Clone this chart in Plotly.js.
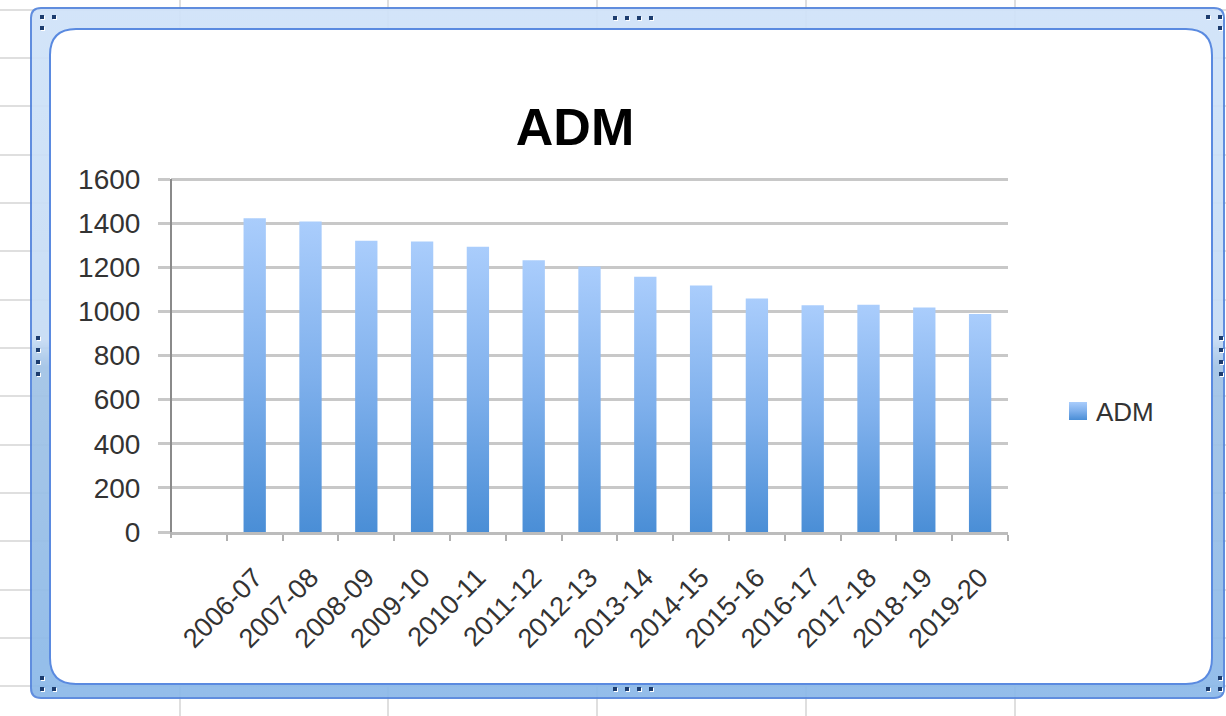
<!DOCTYPE html>
<html>
<head>
<meta charset="utf-8">
<script src="https://cdn.plot.ly/plotly-3.0.1.min.js"></script>
<style>
  html, body { margin: 0; padding: 0; background: #ffffff; }
  #chart { width: 1226px; height: 716px; }
</style>
</head>
<body>
<div id="chart"></div>
<script>
// ---- data ----
const categories = ["2006-07", "2007-08", "2008-09", "2009-10", "2010-11", "2011-12", "2012-13",
                    "2013-14", "2014-15", "2015-16", "2016-17", "2017-18", "2018-19", "2019-20"];
const admValues = [1422, 1407, 1320, 1317, 1293, 1232, 1203, 1157, 1117, 1058, 1028, 1030, 1017, 988];
const seriesName = "ADM";
const chartTitle = "ADM";
const yTicks = [0, 200, 400, 600, 800, 1000, 1200, 1400, 1600];

// ---- layout geometry (pixels) ----
const W = 1226, H = 716;
const L = 171, R = 1008, T = 175, B = 532;
const Y1600 = 179; // pixel row of the 1600 gridline
const yTop = yTicks[yTicks.length - 1];
const yMax = yTop * (B - T) / (B - Y1600);
const PX = p => (p - L) / (R - L);
const PY = p => (B - p) / (B - T);

function roundRectPath(x0, y0, x1, y1, r) {
  const f = (x, y) => PX(x).toFixed(5) + ',' + PY(y).toFixed(5);
  return 'M' + f(x0 + r, y0) + ' L' + f(x1 - r, y0) + ' Q' + f(x1, y0) + ' ' + f(x1, y0 + r) +
         ' L' + f(x1, y1 - r) + ' Q' + f(x1, y1) + ' ' + f(x1 - r, y1) +
         ' L' + f(x0 + r, y1) + ' Q' + f(x0, y1) + ' ' + f(x0, y1 - r) +
         ' L' + f(x0, y0 + r) + ' Q' + f(x0, y0) + ' ' + f(x0 + r, y0) + ' Z';
}

const shapes = [];
// spreadsheet grid lines behind the chart object
const sheetCols = [180, 388, 597, 806, 1015];
const sheetRows = [10, 58, 106, 155, 203, 251, 300, 348, 396, 445, 493, 541, 590, 638, 686];
sheetCols.forEach(x => shapes.push({type: 'line', xref: 'paper', yref: 'paper', layer: 'below',
  x0: PX(x), x1: PX(x), y0: PY(0), y1: PY(H), line: {color: '#d4d4d4', width: 1.5}}));
sheetRows.forEach(y => shapes.push({type: 'line', xref: 'paper', yref: 'paper', layer: 'below',
  x0: PX(0), x1: PX(W), y0: PY(y), y1: PY(y), line: {color: '#d4d4d4', width: 1.5}}));
// outer frame band
const bandIndex = shapes.length;
shapes.push({type: 'path', xref: 'paper', yref: 'paper', layer: 'below',
  path: roundRectPath(31, 8, 1224, 698, 10), fillcolor: '#c3daf4', opacity: 0.93,
  line: {color: '#5585dc', width: 2}});
// inner white area
shapes.push({type: 'path', xref: 'paper', yref: 'paper', layer: 'below',
  path: roundRectPath(50, 29, 1212, 684, 26), fillcolor: '#ffffff',
  line: {color: '#5a8ae0', width: 2}});
// value axis line (only up to the top tick) and left end tick of the category axis
shapes.push({type: 'line', xref: 'paper', yref: 'y', layer: 'above',
  x0: 0, x1: 0, y0: 0, y1: yTop, line: {color: '#8a8a8a', width: 2}});
shapes.push({type: 'line', xref: 'paper', yref: 'paper', layer: 'above',
  x0: 0, x1: 0, y0: PY(532), y1: PY(538), line: {color: '#b0b0b0', width: 2}});
// sizing handles
const handles = [
  [42, 17], [54, 17], [42, 28],
  [1208, 17], [1220, 17], [1220, 28],
  [42, 689], [54, 689], [42, 678],
  [1208, 689], [1220, 689], [1220, 678],
  [615, 18], [627, 18], [639, 18], [651, 18],
  [615, 689], [627, 689], [639, 689], [651, 689],
  [38, 338], [38, 350], [38, 362], [38, 374],
  [1221, 338], [1221, 350], [1221, 362], [1221, 374]
];
handles.forEach(([x, y]) => {
  shapes.push({type: 'rect', xref: 'paper', yref: 'paper', layer: 'below',
    x0: PX(x - 1), x1: PX(x + 3), y0: PY(y - 1), y1: PY(y + 3), fillcolor: '#ffffff', line: {width: 0}});
  shapes.push({type: 'rect', xref: 'paper', yref: 'paper', layer: 'below',
    x0: PX(x - 2), x1: PX(x + 2), y0: PY(y - 2), y1: PY(y + 2), fillcolor: '#1c3c6e', line: {width: 0}});
});

const trace = {
  type: 'bar',
  x: categories,
  y: admValues,
  name: seriesName,
  marker: {color: '#7eaee9', line: {width: 0}},
  hoverinfo: 'x+y'
};

const layout = {
  width: W, height: H,
  margin: {l: L, r: W - R, t: T, b: H - B, pad: 0},
  paper_bgcolor: '#ffffff',
  plot_bgcolor: 'rgba(0,0,0,0)',
  font: {family: 'Liberation Sans, Arial, sans-serif', color: '#333333'},
  title: {
    text: '<b>' + chartTitle + '</b>',
    font: {family: 'Liberation Sans, Arial, sans-serif', size: 52, color: '#000000'},
    xref: 'paper', x: PX(575), xanchor: 'center',
    yref: 'container', y: 1 - 127 / H, yanchor: 'middle'
  },
  bargap: 0.6,
  showlegend: true,
  legend: {
    x: PX(1056), xanchor: 'left', y: PY(411), yanchor: 'middle',
    font: {size: 26, color: '#333333'}, bgcolor: 'rgba(0,0,0,0)'
  },
  xaxis: {
    type: 'category',
    range: [-1.5, categories.length - 0.5],
    tickson: 'boundaries',
    ticks: 'outside', ticklen: 6, tickwidth: 2, tickcolor: '#b0b0b0',
    tickangle: -45,
    ticklabelstandoff: 16,
    tickfont: {size: 27, color: '#333333'},
    showline: true, linecolor: '#bcbcbc', linewidth: 3,
    showgrid: false, zeroline: false, fixedrange: true
  },
  yaxis: {
    range: [0, yMax],
    tickvals: yTicks,
    ticks: 'outside', ticklen: 12, tickwidth: 3, tickcolor: '#c8c8c8',
    ticklabelstandoff: 12,
    tickfont: {size: 28, color: '#333333'},
    showline: false,
    showgrid: true, gridcolor: '#c8c8c8', gridwidth: 3,
    zeroline: false, fixedrange: true
  },
  shapes: shapes
};

function addGradient(svg, id, stops) {
  const ns = 'http://www.w3.org/2000/svg';
  let defs = svg.querySelector('defs');
  if (!defs) { defs = document.createElementNS(ns, 'defs'); svg.insertBefore(defs, svg.firstChild); }
  const g = document.createElementNS(ns, 'linearGradient');
  g.setAttribute('id', id);
  g.setAttribute('x1', '0'); g.setAttribute('y1', '0');
  g.setAttribute('x2', '0'); g.setAttribute('y2', '1');
  stops.forEach(([o, c]) => {
    const s = document.createElementNS(ns, 'stop');
    s.setAttribute('offset', o); s.setAttribute('stop-color', c);
    g.appendChild(s);
  });
  defs.appendChild(g);
}

const gd = document.getElementById('chart');
Plotly.newPlot(gd, [trace], layout, {displayModeBar: false, staticPlot: true}).then(() => {
  const svg = gd.querySelector('svg.main-svg');
  addGradient(svg, 'barGrad', [['0', '#aacdfc'], ['0.5', '#7fb0ec'], ['1', '#4a8ed6']]);
  addGradient(svg, 'bandGrad', [['0', '#d0e3f9'], ['0.48', '#c6dcf5'], ['0.52', '#a2c3e6'], ['1', '#8bb9e9']]);
  gd.querySelectorAll('.barlayer .point path').forEach(p => { p.style.fill = 'url(#barGrad)'; });
  gd.querySelectorAll('.legend .legendpoints path').forEach(p => {
    p.style.fill = 'url(#barGrad)';
    p.setAttribute('d', 'M11,9H-7V-9H11Z');
  });
  const band = gd.querySelector('.layer-below .shapelayer path[data-index="' + bandIndex + '"]');
  if (band) band.style.fill = 'url(#bandGrad)';
});
</script>
</body>
</html>
